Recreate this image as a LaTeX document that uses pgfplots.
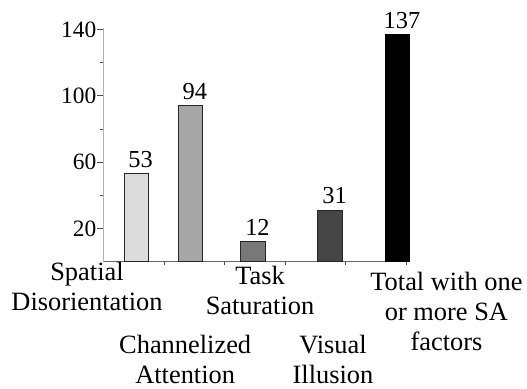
\documentclass[border=0pt]{standalone}
\usepackage{pgfplots}
\pgfplotsset{compat=1.18}
\usepackage{fontspec}
\setmainfont{Liberation Serif}
\definecolor{cA}{HTML}{DCDCDC}
\definecolor{cB}{HTML}{A6A6A6}
\definecolor{cC}{HTML}{787878}
\definecolor{cD}{HTML}{464646}
\begin{document}
\begin{tikzpicture}
\useasboundingbox (0,0) rectangle (527bp,389bp);
\begin{axis}[
  at={(103.5bp,127.5bp)}, anchor=south west,
  scale only axis, width=302.5bp, height=233.8bp,
  xmin=0, xmax=5, ymin=0, ymax=141,
  axis lines*=left,
  clip=false,
  x axis line style={draw=black!60, line width=0.8bp},
  y axis line style={draw=black!30, line width=0.8bp},
  tick align=outside,
  xtick={1,2,3,4,5}, xticklabels={},
  xtick style={draw=black!70, line width=0.6bp, /pgfplots/major tick length=3.5bp},
  ytick={20,60,100,140}, minor ytick={40,80,120},
  ytick style={draw=black!70, line width=0.6bp},
  major tick length=6.5bp, minor tick length=3bp,
  ticklabel style={font=\fontsize{23.5}{26}\selectfont},
  /pgf/number format/assume math mode=true,
  yticklabel style={inner xsep=0.5bp},
  ybar, bar width=24.5bp,
  nodes near coords,
  every node near coord/.append style={font=\fontsize{24.5}{27}\selectfont, anchor=south, inner sep=0pt, yshift=5.5bp, xshift=4.5bp, black},
]
\addplot[bar shift=0pt, fill=cA, draw=black!85, line width=0.8bp] coordinates {(0.540,53)};
\addplot[bar shift=0pt, fill=cB, draw=black!85, line width=0.8bp] coordinates {(1.435,94)};
\addplot[bar shift=0pt, fill=cC, draw=black!85, line width=0.8bp] coordinates {(2.471,12)};
\addplot[bar shift=0pt, fill=cD, draw=black!85, line width=0.8bp] coordinates {(3.744,31)};
\addplot[bar shift=0pt, fill=black, draw=black, line width=0.8bp] coordinates {(4.860,137)};
\begin{scope}[every node/.style={font=\fontsize{26.5}{30}\selectfont, align=center, anchor=base, inner sep=0pt}]
\node at (axis cs:-0.273,-29.3) {Spatial\\Disorientation};
\node at (axis cs:1.350,-73.4) {Channelized\\Attention};
\node at (axis cs:2.587,-31.7) {Task\\Saturation};
\node at (axis cs:3.793,-73.4) {Visual\\Illusion};
\node at (axis cs:5.669,-53.4) {Total with one\\or more SA\\factors};
\end{scope}
\end{axis}
\end{tikzpicture}
\end{document}
